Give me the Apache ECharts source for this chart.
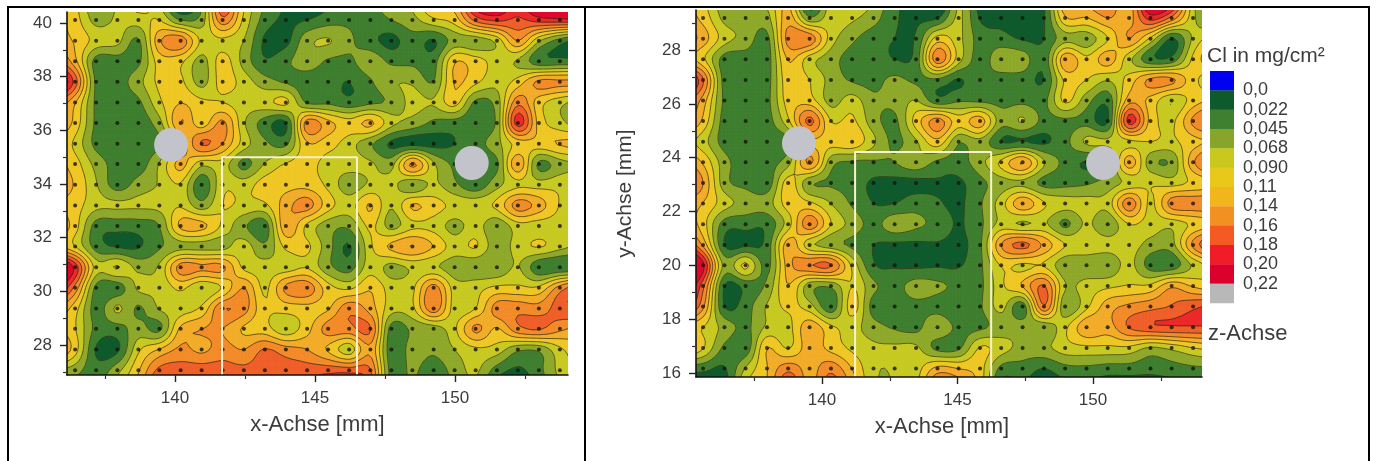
<!DOCTYPE html>
<html><head><meta charset="utf-8">
<style>html,body{margin:0;padding:0;background:#fff}#c{width:1376px;height:461px;filter:blur(0.45px)}</style>
<script src="https://cdn.jsdelivr.net/npm/echarts@6/dist/echarts.min.js"></script>
</head><body><div id="c"></div>
<script>
// measurement positions (mm)
const leftXs=[136.43,137.18,137.94,138.69,139.44,140.2,140.95,141.7,142.46,143.21,143.96,144.72,145.47,146.22,146.98,147.73,148.48,149.24,149.99,150.74,151.5,152.25,153.0,153.75];
const leftYs=[40.11,39.34,38.57,37.81,37.04,36.27,35.5,34.74,33.97,33.2,32.43,31.67,30.9,30.13,29.36,28.6,27.83,27.06];
const rightXs=[135.61,136.4,137.18,137.97,138.75,139.54,140.33,141.11,141.9,142.68,143.47,144.26,145.04,145.83,146.61,147.4,148.19,148.97,149.76,150.54,151.33,152.12,152.9,153.69];
const rightYs=[29.19,28.42,27.66,26.89,26.13,25.36,24.59,23.83,23.06,22.3,21.53,20.76,20.0,19.23,18.47,17.7,16.93,16.17];
// Cl values at the measurement points, in 0.001 mg/cm2, row by row from the top
const leftR00=[100,60,72,80,90,45,55,150,85,35,18,22,35,40,35,45,60,85,100,165,185,175,190,195];
const leftR01=[110,82,75,42,130,150,85,85,68,18,15,60,70,50,30,15,35,20,55,55,75,135,72,35];
const leftR02=[120,35,35,40,100,95,60,100,60,25,40,58,42,40,60,40,40,35,110,100,80,65,30,30];
const leftR03=[170,40,35,60,95,95,60,100,80,55,42,32,30,22,42,65,65,45,115,95,75,100,140,140];
const leftR04=[115,40,32,40,85,112,95,90,80,82,95,42,40,30,40,50,75,70,100,40,55,150,100,75];
const leftR05=[105,40,30,30,60,135,100,140,72,35,20,145,120,100,118,75,60,40,35,30,50,190,105,75];
const leftR06=[85,38,30,30,40,90,160,135,80,50,40,110,100,78,50,18,15,15,22,35,60,100,105,115];
const leftR07=[100,60,35,32,70,120,75,80,38,70,92,100,80,78,72,60,140,72,40,30,40,130,40,58];
const leftR08=[110,70,35,55,70,88,28,85,80,100,105,105,85,55,72,75,50,72,50,30,60,85,80,85];
const leftR09=[100,75,72,72,75,88,55,90,85,85,125,145,100,80,115,70,115,100,85,85,95,145,125,88];
const leftR10=[100,35,30,32,45,118,120,85,50,32,130,85,55,50,95,60,85,82,60,78,50,80,78,78];
const leftR11=[90,35,20,20,42,60,60,60,80,50,95,95,55,20,85,118,135,112,80,92,55,78,92,75];
const leftR12=[195,80,92,62,72,145,140,140,85,78,78,88,52,35,80,60,72,72,55,50,48,70,28,25];
const leftR13=[150,38,32,72,72,95,70,92,135,85,140,150,100,85,110,80,85,145,80,82,95,95,95,145];
const leftR14=[100,35,72,42,70,78,95,155,145,95,100,105,110,150,125,78,85,150,80,90,145,150,145,170];
const leftR15=[92,38,35,55,40,118,135,135,110,100,75,105,145,150,160,35,50,55,85,140,110,150,160,140];
const leftR16=[100,20,18,85,115,140,130,145,135,160,145,135,110,78,130,30,55,50,68,85,80,50,50,85];
const leftR17=[55,30,60,110,165,170,172,170,165,170,170,170,172,170,160,35,50,30,55,72,35,18,38,75];
const rightR00=[105,62,60,60,125,50,80,72,55,25,18,20,72,20,15,15,20,110,112,135,125,190,150,75];
const rightR01=[125,78,60,38,145,150,80,50,32,22,25,100,75,35,30,20,22,60,55,90,135,85,20,72];
const rightR02=[95,35,33,33,115,78,55,35,35,22,32,150,78,35,62,58,30,130,95,125,75,28,30,95];
const rightR03=[160,35,32,35,105,90,60,42,38,50,40,40,20,40,35,35,22,95,90,70,100,140,140,98];
const rightR04=[125,40,32,38,100,100,60,78,50,52,68,30,42,40,38,40,38,95,55,30,125,105,70,100];
const rightR05=[108,35,32,35,85,165,90,95,55,40,100,145,100,125,55,70,38,40,38,20,190,105,85,140];
const rightR06=[78,35,32,32,38,105,100,108,72,40,65,105,48,60,22,22,18,38,72,72,85,90,85,105];
const rightR07=[110,55,32,35,60,140,55,42,42,45,62,40,35,60,95,135,70,38,20,35,125,55,50,130];
const rightR08=[135,55,38,30,100,50,42,35,18,15,15,20,18,38,58,62,38,38,42,55,75,88,80,95];
const rightR09=[112,78,60,58,100,95,68,42,22,22,35,25,18,42,80,130,92,78,78,78,150,85,145,150];
const rightR10=[100,35,30,28,80,150,90,60,38,60,50,38,20,40,75,65,72,40,72,50,90,80,75,95];
const rightR11=[130,22,18,30,125,75,55,40,22,18,18,20,18,40,135,165,130,90,85,78,80,60,60,140];
const rightR12=[210,60,95,38,125,155,160,85,25,20,18,20,20,40,92,85,88,50,52,50,75,35,30,72];
const rightR13=[165,22,30,50,112,55,50,90,50,38,55,50,40,40,85,115,160,70,78,85,92,95,130,110];
const rightR14=[140,22,35,70,95,78,30,100,35,32,38,35,22,42,75,32,155,50,85,125,140,150,160,175];
const rightR15=[90,60,40,72,82,128,95,78,55,42,38,65,38,40,55,58,50,85,130,125,160,175,178,178];
const rightR16=[92,40,30,112,88,125,105,85,72,72,72,38,40,92,78,60,62,80,85,85,85,65,75,90];
const rightR17=[30,20,70,112,150,125,150,112,72,70,80,120,112,100,38,35,22,38,40,35,35,30,35,40];
const leftRows=[leftR00,leftR01,leftR02,leftR03,leftR04,leftR05,leftR06,leftR07,leftR08,leftR09,leftR10,leftR11,leftR12,leftR13,leftR14,leftR15,leftR16,leftR17];
const rightRows=[rightR00,rightR01,rightR02,rightR03,rightR04,rightR05,rightR06,rightR07,rightR08,rightR09,rightR10,rightR11,rightR12,rightR13,rightR14,rightR15,rightR16,rightR17];
// contour levels
const levelValues=[22,45,68,90,113,135,158,180,203,225];
const bandColors=['#0f5a2c','#3f7f30','#8fa92c','#c8ca24','#efc826','#f2ad2a','#f38c2a','#f0602a','#ec2a2a','#e0082c','#b8b8b8'];
// legend
const legendColors=['#0000f0','#0f5a2c','#3f7f30','#86a52a','#c8c81e','#e8c81a','#f0b61c','#f39022','#f45a22','#f01c28','#dc002c','#b8b8b8'];
const legendLabels=['0,0','0,022','0,045','0,068','0,090','0,11','0,14','0,16','0,18','0,20','0,22'];
// axes
const leftXTicks=[140,145,150], leftXMinor=[137.5,142.5,147.5,152.5];
const leftYTicks=[28,30,32,34,36,38,40], leftYMinor=[27,29,31,33,35,37,39];
const rightXTicks=[140,145,150], rightXMinor=[137.5,142.5,147.5,152.5];
const rightYTicks=[16,18,20,22,24,26,28], rightYMinor=[17,19,21,23,25,27,29];
// markers (mm)
const leftHoles=[[139.86,35.45],[150.6,34.78]];
const rightHoles=[[139.15,24.54],[150.37,23.8]];
const leftBox=[[141.68,26.88],[141.68,35.0],[146.5,35.0],[146.5,26.88]];
const rightBox=[[141.22,15.85],[141.22,24.21],[146.24,24.21],[146.24,15.85]];

const panels=[
 {left:67,top:12,width:501,height:363,xMin:136.14,xMax:154.04,yMin:26.88,yMax:40.41,xs:leftXs,ys:leftYs,rows:leftRows,xt:leftXTicks,xm:leftXMinor,yt:leftYTicks,ym:leftYMinor,holes:leftHoles,box:leftBox,pad:0,nameFont:22,nameGap:39},
 {left:696,top:10,width:506,height:367,xMin:135.35,xMax:154.02,yMin:15.85,yMax:29.49,xs:rightXs,ys:rightYs,rows:rightRows,xt:rightXTicks,xm:rightXMinor,yt:rightYTicks,ym:rightYMinor,holes:rightHoles,box:rightBox,pad:14,nameFont:22,nameGap:39}
];
const tc='#3c3c3c', ff='"Liberation Sans",Arial,sans-serif';

// smooth surface drawn through the measured values (rendering only)
function surface(p){
 const R=p.rows.length,C=p.rows[0].length;
 const g=(j,i)=>{
  const jj=Math.min(R-1,Math.max(0,j)),ii=Math.min(C-1,Math.max(0,i));
  let v=p.rows[jj][ii];
  if(i<0)v+=0.6*(p.rows[jj][0]-p.rows[jj][1]);
  if(i>=C)v+=0.6*(p.rows[jj][C-1]-p.rows[jj][C-2]);
  if(j<0)v+=0.6*(p.rows[0][ii]-p.rows[1][ii]);
  if(j>=R)v+=0.6*(p.rows[R-1][ii]-p.rows[R-2][ii]);
  return v;};
 const cr=(a,b,c,d,t)=>0.5*(2*b+(c-a)*t+(2*a-5*b+4*c-d)*t*t+(3*b-a-3*c+d)*t*t*t);
 const cl=(x,a,b)=>Math.min(b,Math.max(a,x));
 return (x,y)=>{
  const dx=(p.xs[C-1]-p.xs[0])/(C-1),dy=(p.ys[0]-p.ys[R-1])/(R-1);
  const u=(x-p.xs[0])/dx,v=(p.ys[0]-y)/dy;
  const i=Math.floor(u),j=Math.floor(v),tu=u-i,tv=v-j;
  const col=[];
  for(let m=-1;m<=2;m++){
   const jj=cl(j+m,-1,R);
   col.push(cr(g(jj,cl(i-1,-1,C)),g(jj,cl(i,-1,C)),g(jj,cl(i+1,-1,C)),g(jj,cl(i+2,-1,C)),tu));
  }
  return Math.max(1,Math.min(220,cr(col[0],col[1],col[2],col[3],tv)));
 };
}
function renderSurface(p){
 const f=surface(p),NX=Math.round(p.width/3.5),NY=Math.round(p.height/3.5);
 return function(params,api){
  const V=[],P=[];
  for(let j=0;j<=NY;j++){V.push([]);P.push([]);
   for(let i=0;i<=NX;i++){
    const x=p.xMin+(p.xMax-p.xMin)*i/NX,y=p.yMax-(p.yMax-p.yMin)*j/NY;
    V[j].push(f(x,y));P[j].push(api.coord([x,y]));
   }}
  const fills=levelValues.map(()=>[]),lines=levelValues.map(()=>[]);
  for(let j=0;j<NY;j++)for(let i=0;i<NX;i++){
   const q=[[P[j][i],V[j][i]],[P[j][i+1],V[j][i+1]],[P[j+1][i+1],V[j+1][i+1]],[P[j+1][i],V[j+1][i]]];
   const mn=Math.min(q[0][1],q[1][1],q[2][1],q[3][1]),mx=Math.max(q[0][1],q[1][1],q[2][1],q[3][1]);
   levelValues.forEach((t,k)=>{
    if(mx<t)return;
    const nxt=levelValues[k+1];
    if(nxt!==undefined&&mn>=nxt)return;
    const poly=[],cross=[];
    for(let e=0;e<4;e++){
     const a=q[e],b=q[(e+1)%4];
     if(a[1]>=t)poly.push(a[0]);
     if((a[1]>=t)!==(b[1]>=t)){
      const s=(t-a[1])/(b[1]-a[1]);
      const pt=[a[0][0]+(b[0][0]-a[0][0])*s,a[0][1]+(b[0][1]-a[0][1])*s];
      poly.push(pt);cross.push(pt);
     }}
    if(poly.length>2)fills[k].push('M'+poly.map(c=>c[0].toFixed(1)+' '+c[1].toFixed(1)).join('L')+'Z');
    for(let c=0;c+1<cross.length;c+=2)lines[k].push('M'+cross[c][0].toFixed(1)+' '+cross[c][1].toFixed(1)+'L'+cross[c+1][0].toFixed(1)+' '+cross[c+1][1].toFixed(1));
   });
  }
  const a=api.coord([p.xMin,p.yMax]),b=api.coord([p.xMax,p.yMin]);
  const ch=[{type:'rect',shape:{x:a[0],y:a[1],width:b[0]-a[0],height:b[1]-a[1]},style:{fill:bandColors[0]}}];
  levelValues.forEach((t,k)=>{if(fills[k].length)ch.push({type:'path',shape:{pathData:fills[k].join('')},style:{fill:bandColors[k+1],stroke:bandColors[k+1],lineWidth:0.6}});});
  levelValues.forEach((t,k)=>{if(lines[k].length)ch.push({type:'path',shape:{pathData:lines[k].join('')},style:{fill:null,stroke:'#2a2a10',lineWidth:0.8,opacity:0.85}});});
  return {type:'group',children:ch};
 };
}
const grid=[],xAxis=[],yAxis=[],series=[];
panels.forEach((p,n)=>{
 grid.push({left:p.left,top:p.top,width:p.width,height:p.height});
 const base={gridIndex:n,type:'value',splitLine:{show:false},z:6};
 xAxis.push(Object.assign({},base,{position:'bottom',min:p.xMin,max:p.xMax,name:'x-Achse [mm]',nameLocation:'middle',nameGap:p.nameGap,
  nameTextStyle:{color:tc,fontSize:p.nameFont,fontFamily:ff,padding:[0,p.pad,0,0]},
  axisLine:{show:true,onZero:false,lineStyle:{color:'#111',width:1.6}},
  axisTick:{show:true,length:7,customValues:p.xt,lineStyle:{color:'#222',width:1.4}},
  axisLabel:{show:true,customValues:p.xt,margin:15,color:tc,fontSize:17,fontFamily:ff}}));
 yAxis.push(Object.assign({},base,{position:'left',min:p.yMin,max:p.yMax,name:n?'y-Achse [mm]':'',nameLocation:'middle',nameGap:60,
  nameTextStyle:{color:tc,fontSize:21,fontFamily:ff},
  axisLine:{show:true,onZero:false,lineStyle:{color:'#111',width:1.6}},
  axisTick:{show:true,length:7,customValues:p.yt,lineStyle:{color:'#222',width:1.4}},
  axisLabel:{show:true,customValues:p.yt,margin:15,color:tc,fontSize:17,fontFamily:ff}}));
});
panels.forEach((p,n)=>{
 xAxis.push({gridIndex:n,type:'value',position:'bottom',min:p.xMin,max:p.xMax,splitLine:{show:false},z:6,axisLine:{show:false,onZero:false},axisLabel:{show:false},axisTick:{show:true,length:4,customValues:p.xm,lineStyle:{color:'#333',width:1.2}}});
 yAxis.push({gridIndex:n,type:'value',position:'left',min:p.yMin,max:p.yMax,splitLine:{show:false},z:6,axisLine:{show:false,onZero:false},axisLabel:{show:false},axisTick:{show:true,length:4,customValues:p.ym,lineStyle:{color:'#333',width:1.2}}});
});
panels.forEach((p,n)=>{
 const ax={xAxisIndex:n,yAxisIndex:n,silent:true,animation:false};
 const dots=[];p.ys.forEach(y=>p.xs.forEach(x=>dots.push([x,y])));
 series.push(Object.assign({},ax,{type:'custom',z:2,clip:true,data:[[p.xs[0],p.ys[0]]],renderItem:renderSurface(p)}));
 series.push(Object.assign({},ax,{type:'scatter',z:3,symbolSize:4,itemStyle:{color:'#141408'},data:dots}));
 series.push(Object.assign({},ax,{type:'line',z:4,showSymbol:false,data:p.box,lineStyle:{color:'#f6f2d0',width:2}}));
 series.push(Object.assign({},ax,{type:'scatter',z:5,symbolSize:34,itemStyle:{color:'#c3c3cc',opacity:1},data:p.holes}));
});
const LX=1210,LY=71,LH=19.33,graphic=[];
legendColors.forEach((c,i)=>graphic.push({type:'rect',silent:true,shape:{x:LX,y:LY+i*LH,width:24,height:LH+0.3},style:{fill:c}}));
legendLabels.forEach((t,i)=>graphic.push({type:'text',silent:true,x:1243,y:LY+(i+1)*LH,style:{text:t,fill:tc,font:'18px '+ff,verticalAlign:'middle'}}));
graphic.push({type:'text',silent:true,x:1207,y:56,style:{text:'Cl in mg/cm²',fill:tc,font:'21px '+ff,verticalAlign:'middle'}});
graphic.push({type:'text',silent:true,x:1208,y:334,style:{text:'z-Achse',fill:tc,font:'22px '+ff,verticalAlign:'middle'}});
// table frame
[[7,6,1370,8],[7,6,9,461],[584,6,586,461],[1368,6,1370,461]].forEach(r=>graphic.push({type:'rect',silent:true,shape:{x:r[0],y:r[1],width:r[2]-r[0],height:r[3]-r[1]},style:{fill:'#000'}}));
const chart=echarts.init(document.getElementById('c'),null,{renderer:'canvas'});
chart.setOption({animation:false,backgroundColor:'#fff',grid,xAxis,yAxis,series,graphic});
</script></body></html>
